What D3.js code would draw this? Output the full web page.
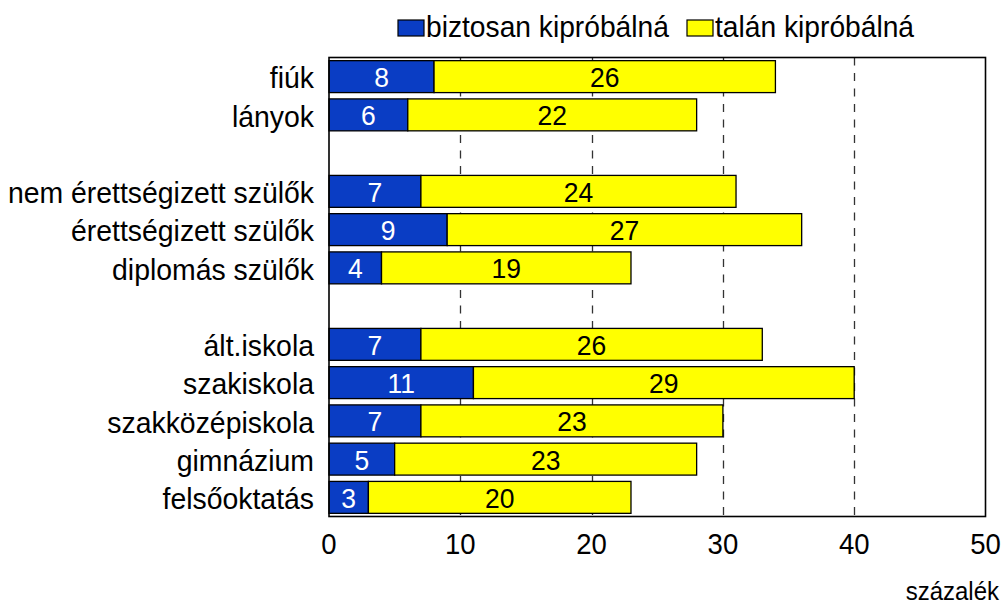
<!DOCTYPE html>
<html>
<head>
<meta charset="utf-8">
<script src="https://cdn.jsdelivr.net/npm/d3@7"></script>
<style>
  body { margin: 0; background: #fff; }
  text { font-family: "Liberation Sans", Arial, sans-serif; }
</style>
</head>
<body>
<div id="chart"></div>
<script>
// csoportok (üres elem = térköz)
const categories = ["fiúk", "lányok", "", "nem érettségizett szülők", "érettségizett szülők", "diplomás szülők", "", "ált.iskola", "szakiskola", "szakközépiskola", "gimnázium", "felsőoktatás"];
const biztosan = [8, 6, null, 7, 9, 4, null, 7, 11, 7, 5, 3];
const talan = [26, 22, null, 24, 27, 19, null, 26, 29, 23, 23, 20];
const xTicks = [0, 10, 20, 30, 40, 50];
const seriesNames = ["biztosan kipróbálná", "talán kipróbálná"];
const colors = ["#0A3DC4", "#FFFF00"];

const W = 1003, H = 604;
const plot = { left: 329, right: 985.5, top: 57.5, bottom: 516.5 };
const stretch = 1.06; // a képen a betűk kicsit magasabbak

let svg = d3.select('#chart')
  .append('svg')
  .attr('width', W)
  .attr('height', H);

let x = d3.scaleLinear().domain([0, 50]).range([plot.left, plot.right]);
let y = d3.scaleBand()
  .domain(d3.range(categories.length))
  .range([plot.top, plot.bottom])
  .paddingInner(0.165)
  .paddingOuter(0.0825);

// szöveg elhelyezése függőleges nyújtással
function place(sel, fx, fy) {
  sel.attr('transform', (d, i) => 'translate(' + fx(d, i) + ',' + fy(d, i) + ') scale(1,' + stretch + ')');
}

// rács
svg.append('g')
  .selectAll('line')
  .data(xTicks.filter(d => d > 0 && d < 50))
  .enter().append('line')
  .attr('x1', d => Math.round(x(d)) + 0.5)
  .attr('x2', d => Math.round(x(d)) + 0.5)
  .attr('y1', plot.top)
  .attr('y2', plot.bottom)
  .attr('stroke', '#333')
  .attr('stroke-width', 1.3)
  .attr('stroke-dasharray', '8,7.5');

let rows = categories.map((c, i) => ({ i: i, name: c, a: biztosan[i], b: talan[i] }))
  .filter(d => d.a != null);

let g = svg.append('g');

// kék szakasz
g.selectAll('rect.a')
  .data(rows)
  .enter().append('rect')
  .attr('class', 'a')
  .attr('x', x(0))
  .attr('y', d => y(d.i))
  .attr('width', d => x(d.a) - x(0))
  .attr('height', y.bandwidth())
  .attr('fill', colors[0])
  .attr('stroke', '#000')
  .attr('stroke-width', 1.3);

// sárga szakasz
g.selectAll('rect.b')
  .data(rows)
  .enter().append('rect')
  .attr('class', 'b')
  .attr('x', d => x(d.a))
  .attr('y', d => y(d.i))
  .attr('width', d => x(d.a + d.b) - x(d.a))
  .attr('height', y.bandwidth())
  .attr('fill', colors[1])
  .attr('stroke', '#000')
  .attr('stroke-width', 1.3);

// értékek
g.selectAll('text.a')
  .data(rows)
  .enter().append('text')
  .call(place, d => (x(0) + x(d.a)) / 2, d => y(d.i) + y.bandwidth() / 2)
  .attr('dy', '0.37em')
  .attr('text-anchor', 'middle')
  .attr('fill', '#fff')
  .style('font-size', '26.5px')
  .text(d => d.a);

g.selectAll('text.b')
  .data(rows)
  .enter().append('text')
  .call(place, d => (x(d.a) + x(d.a + d.b)) / 2, d => y(d.i) + y.bandwidth() / 2)
  .attr('dy', '0.37em')
  .attr('text-anchor', 'middle')
  .attr('fill', '#000')
  .style('font-size', '26.5px')
  .text(d => d.b);

// keret
svg.append('rect')
  .attr('x', plot.left)
  .attr('y', plot.top)
  .attr('width', plot.right - plot.left)
  .attr('height', plot.bottom - plot.top)
  .attr('fill', 'none')
  .attr('stroke', '#000')
  .attr('stroke-width', 1.6);

// kategória feliratok
svg.append('g')
  .selectAll('text')
  .data(rows)
  .enter().append('text')
  .call(place, d => plot.left - 15, d => y(d.i) + y.bandwidth() / 2)
  .attr('dy', '0.39em')
  .attr('text-anchor', 'end')
  .style('font-size', '28.4px')
  .text(d => d.name);

// x tengely feliratok
svg.append('g')
  .selectAll('text')
  .data(xTicks)
  .enter().append('text')
  .call(place, d => x(d), d => 554)
  .attr('text-anchor', 'middle')
  .style('font-size', '27.5px')
  .text(d => d);

svg.append('text')
  .datum(0)
  .call(place, d => 999, d => 600)
  .attr('text-anchor', 'end')
  .style('font-size', '24px')
  .text('százalék');

// jelmagyarázat
let legend = svg.append('g');
let lx = [398, 687];
seriesNames.forEach((s, i) => {
  legend.append('rect')
    .attr('x', lx[i])
    .attr('y', 20)
    .attr('width', 26)
    .attr('height', 16)
    .attr('fill', colors[i])
    .attr('stroke', '#000')
    .attr('stroke-width', 1.2);
  legend.append('text')
    .datum(0)
    .call(place, d => lx[i] + 28, d => 37)
    .style('font-size', '28.2px')
    .text(s);
});
</script>
</body>
</html>
